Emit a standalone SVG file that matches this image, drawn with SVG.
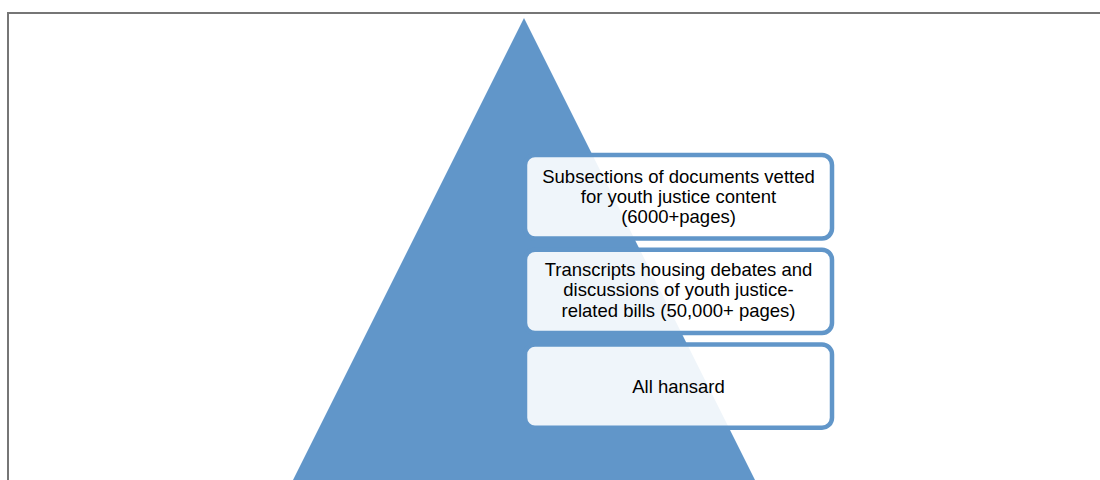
<svg xmlns="http://www.w3.org/2000/svg" width="1100" height="480" viewBox="0 0 1100 480">
  <style>
    .frame { fill: #ffffff; stroke: #767676; stroke-width: 2; }
    .pyramid { fill: #6196c9; }
    .tier { fill: #ffffff; fill-opacity: 0.9; stroke: #6196c9; stroke-width: 4.5; }
    .label { font-family: "Liberation Sans", Arial, sans-serif; font-size: 18.5px; fill: #000000; text-anchor: middle; }
  </style>

  <!-- page frame -->
  <rect class="frame" x="8" y="13" width="1110" height="480"/>

  <!-- pyramid backdrop -->
  <polygon class="pyramid" points="524,18 762,494 286,494"/>

  <g id="connectors"></g>

  <!-- top tier -->
  <g id="tier-subsections">
    <rect class="tier" x="525" y="155" width="307" height="83.5" rx="10" ry="10"/>
    <text class="label" x="678.5" y="183">Subsections of documents vetted</text>
    <text class="label" x="678.5" y="203.2">for youth justice content</text>
    <text class="label" x="678.5" y="222.7">(6000+pages)</text>
  </g>

  <!-- middle tier -->
  <g id="tier-transcripts">
    <rect class="tier" x="525" y="249.7" width="307" height="83.3" rx="10" ry="10"/>
    <text class="label" x="678.5" y="276.4">Transcripts housing debates and</text>
    <text class="label" x="678.5" y="296.4">discussions of youth justice-</text>
    <text class="label" x="678.5" y="316.7">related bills (50,000+ pages)</text>
  </g>

  <!-- base tier -->
  <g id="tier-hansard">
    <rect class="tier" x="525" y="344.4" width="307" height="83.3" rx="10" ry="10"/>
    <text class="label" x="678.5" y="392.5">All hansard</text>
  </g>
</svg>
